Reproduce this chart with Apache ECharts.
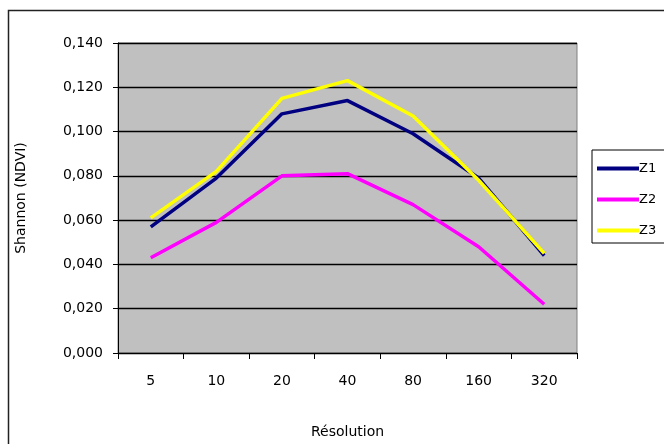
<!DOCTYPE html>
<html>
<head>
<meta charset="utf-8">
<script src="https://cdn.jsdelivr.net/npm/echarts@6/dist/echarts.min.js"></script>
<style>html,body{margin:0;padding:0;background:#fff;}#c{width:664px;height:444px;}</style>
</head>
<body>
<div id="c"></div>
<script>
var categories = ['5', '10', '20', '40', '80', '160', '320'];
var z1 = [0.057, 0.079, 0.108, 0.114, 0.099, 0.079, 0.044];
var z2 = [0.043, 0.059, 0.080, 0.081, 0.067, 0.048, 0.022];
var z3 = [0.061, 0.082, 0.115, 0.123, 0.107, 0.078, 0.045];
var seriesNames = ['Z1', 'Z2', 'Z3'];
var seriesColors = ['#000080', '#ff00ff', '#ffff00'];
var seriesData = [z1, z2, z3];

var font = 'DejaVu Sans, Verdana, sans-serif';
var chart = echarts.init(document.getElementById('c'), null, {renderer: 'canvas'});
chart.setOption({
  animation: false,
  backgroundColor: '#ffffff',
  textStyle: {fontFamily: font},
  graphic: [{
    type: 'rect',
    shape: {x: 8.5, y: 10.5, width: 700, height: 500},
    style: {fill: 'none', stroke: '#222', lineWidth: 1.5},
    z: 100
  }],
  grid: {
    left: 118, right: 87, top: 43, bottom: 91,
    show: true, backgroundColor: '#c0c0c0', borderColor: '#808080', borderWidth: 1
  },
  legend: {
    orient: 'vertical',
    left: 592, top: 150,
    data: seriesNames,
    icon: 'rect',
    itemWidth: 42, itemHeight: 4,
    itemGap: 18,
    padding: [12, 40, 6, 5],
    borderColor: '#000', borderWidth: 1,
    textStyle: {fontFamily: font, fontSize: 13, color: '#000', padding: [0, 0, 0, -5]}
  },
  xAxis: {
    type: 'category',
    data: categories,
    boundaryGap: true,
    name: 'Résolution',
    nameLocation: 'middle',
    nameGap: 72,
    nameTextStyle: {fontFamily: font, fontSize: 14, color: '#000'},
    axisLine: {lineStyle: {color: '#000', width: 1}},
    axisTick: {show: true, length: 6, alignWithLabel: false, lineStyle: {color: '#000'}},
    axisLabel: {margin: 21, fontFamily: font, fontSize: 14, color: '#000'},
    splitLine: {show: false}
  },
  yAxis: {
    type: 'value',
    min: 0, max: 0.14, interval: 0.02,
    name: 'Shannon (NDVI)',
    nameLocation: 'middle',
    nameGap: 90,
    nameTextStyle: {fontFamily: font, fontSize: 14, color: '#000'},
    axisLine: {show: true, lineStyle: {color: '#000', width: 1}},
    axisTick: {show: true, length: 5, lineStyle: {color: '#000'}},
    axisLabel: {
      margin: 15, fontFamily: font, fontSize: 14, color: '#000',
      formatter: function (v) { return v.toFixed(3).replace('.', ','); }
    },
    splitLine: {show: true, lineStyle: {color: '#000', width: 1.4}}
  },
  series: seriesNames.map(function (n, i) {
    return {
      name: n, type: 'line', data: seriesData[i],
      symbol: 'none',
      lineStyle: {color: seriesColors[i], width: 3.5},
      itemStyle: {color: seriesColors[i]}
    };
  })
});
</script>
</body>
</html>
